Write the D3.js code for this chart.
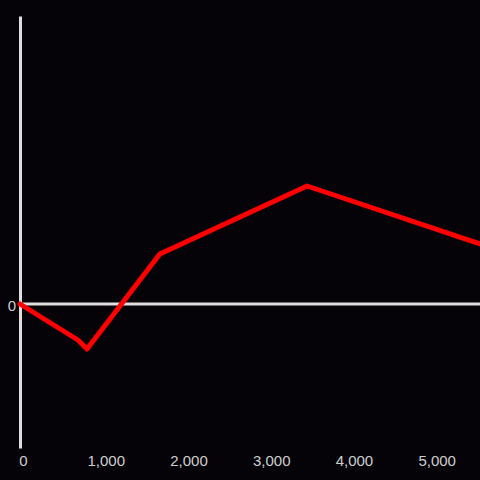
<!DOCTYPE html>
<html>
<head>
<meta charset="utf-8">
<script src="https://cdnjs.cloudflare.com/ajax/libs/d3/7.8.5/d3.min.js"></script>
<style>
  html, body { margin: 0; padding: 0; background: #050308; }
  svg { display: block; }
</style>
</head>
<body>
<div id="container"></div>
<script>
// data
const xValues = [0, 700, 810, 1690, 3470, 5560];
const yValues = [0, -36, -45, 50, 118, 60];
const xTicks = [0, 1000, 2000, 3000, 4000, 5000];
const yTicks = [0];

const W = 480, H = 480;
const margin = { top: 16, right: 0, bottom: 32, left: 20 },
    width = W - margin.left - margin.right,
    height = H - margin.top - margin.bottom;

const svg = d3.select("#container")
    .append("svg")
    .attr("width", W)
    .attr("height", H)
    .style("background", "#050308");

const g = svg.append("g")
    .attr("transform", `translate(${margin.left}, ${margin.top})`);

const x = d3.scaleLinear()
    .domain([0, 5560])
    .range([0, width]);

const y = d3.scaleLinear()
    .domain([-144, 288])
    .range([height, 0]);

// x axis labels only
const xAxis = g.append("g")
    .attr("transform", `translate(0, ${height})`)
    .call(d3.axisBottom(x).tickValues(xTicks).tickSize(0).tickPadding(7).tickFormat(d3.format(",")));
xAxis.select(".domain").remove();
xAxis.selectAll("text")
    .attr("fill", "#cfcfcf")
    .attr("dx", 3)
    .style("font-family", "'Liberation Sans', Arial, sans-serif")
    .style("font-size", "15px");

// y axis: vertical line + single "0" label
const yAxis = g.append("g")
    .call(d3.axisLeft(y).tickValues(yTicks).tickSize(0).tickPadding(4).tickSizeOuter(0));
yAxis.select(".domain")
    .attr("stroke", "#dedede")
    .attr("stroke-width", 3);
yAxis.selectAll("text")
    .attr("fill", "#cfcfcf")
    .attr("dy", "0.4em")
    .style("font-family", "'Liberation Sans', Arial, sans-serif")
    .style("font-size", "15px");

// zero line
g.append("line")
    .attr("x1", x(0))
    .attr("x2", width)
    .attr("y1", y(0))
    .attr("y2", y(0))
    .attr("stroke", "#dedede")
    .attr("stroke-width", 3);

// red series
const pts = xValues.map((v, i) => [v, yValues[i]]);
g.append("path")
    .datum(pts)
    .attr("fill", "none")
    .attr("stroke", "#ff0000")
    .attr("stroke-width", 5)
    .attr("stroke-linejoin", "round")
    .attr("stroke-linecap", "round")
    .attr("d", d3.line().x(d => x(d[0])).y(d => y(d[1])));
</script>
</body>
</html>
